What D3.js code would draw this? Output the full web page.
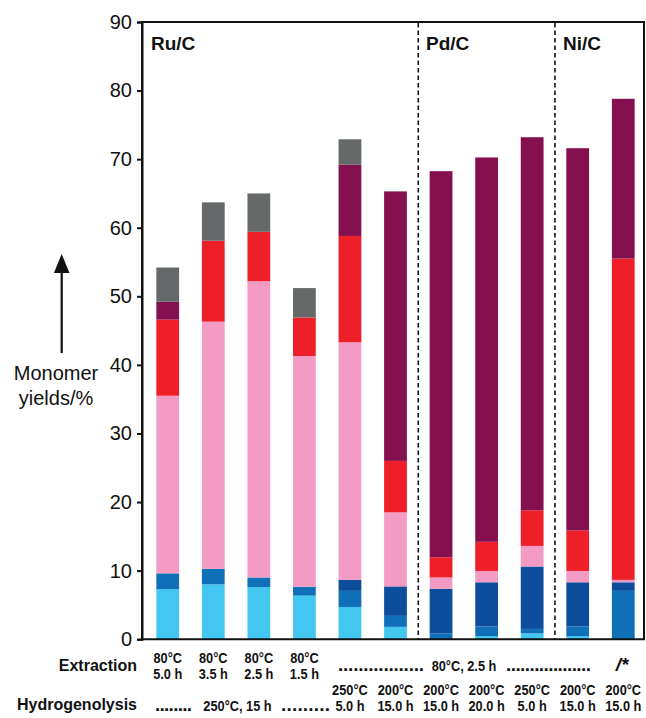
<!DOCTYPE html>
<html><head><meta charset="utf-8">
<script src="https://cdn.jsdelivr.net/npm/d3@7"></script>
<style>
body{margin:0;background:#fff;}
svg{display:block;font-family:"Liberation Sans",Arial,Helvetica,sans-serif;}
</style></head>
<body><svg id="c" width="646" height="718"></svg>
<script>
// ---- data ----
const bars = ["b1","b2","b3","b4","b5","b6","b7","b8","b9","b10","b11"];
const seriesKeys = ["cyan","mblue","dblue","pink","red","purple","gray"];
const cyan   = [7.3, 8.0, 7.6, 6.35, 4.7, 1.8, 0,    0.45, 0.85, 0.45, 0];
const mblue  = [2.3, 2.25,1.4, 1.3,  2.35,1.6, 0.85, 1.4,  0.65, 1.4,  7.05];
const dblue  = [0,   0,   0,   0,    1.6, 4.3, 6.5,  6.45, 9.1,  6.45, 1.25];
const pink   = [25.9,36.05,43.2,33.65,34.65,10.8,1.65,1.65, 3.0,  1.65, 0.35];
const red    = [11.1,11.8,7.2, 5.6,  15.5,7.5, 2.95, 4.25, 5.2,  5.9,  46.85];
const purple = [2.6, 0,   0,   0,    10.4,39.3,56.3, 56.05,54.4, 55.75,23.3];
const gray   = [5.0, 5.6, 5.6, 4.3,  3.7, 0,   0,    0,    0,    0,    0];
const yTicks = [0,10,20,30,40,50,60,70,80,90];
const catalysts = ["Ru/C","Pd/C","Ni/C"];
const extraction1 = ["80°C","80°C","80°C","80°C"];
const extraction2 = ["5.0 h","3.5 h","2.5 h","1.5 h"];
const extractionShared = "80°C, 2.5 h";
const extractionLast = "/*";
const hydroShared = "250°C, 15 h";
const hydro1 = ["250°C","200°C","200°C","200°C","250°C","200°C","200°C"];
const hydro2 = ["5.0 h","15.0 h","15.0 h","20.0 h","5.0 h","15.0 h","15.0 h"];

const colors = {cyan:"#43c7f1",mblue:"#0f70b8",dblue:"#0c4e9b",pink:"#f39bc4",red:"#ee1f28",purple:"#85104f",gray:"#65696a"};
const seriesData = {cyan,mblue,dblue,pink,red,purple,gray};

// ---- layout ----
const svg = d3.select("#c");
const pL = 142, pR = 644, pT = 22, pB = 639.2;
const x = d3.scaleBand().domain(bars).range([144.5, 646.5]).paddingInner(0.5).paddingOuter(0.26);
const y = d3.scaleLinear().domain([0,90]).range([pB, pT]);

const rows = bars.map((b,i)=>{const o={bar:b}; seriesKeys.forEach(k=>o[k]=seriesData[k][i]); return o;});
const stack = d3.stack().keys(seriesKeys)(rows);

svg.append("g").selectAll("g").data(stack).join("g")
  .attr("fill", d=>colors[d.key])
  .selectAll("rect").data(d=>d.filter(s=>s[1]-s[0]>0)).join("rect")
  .attr("x", d=>x(d.data.bar))
  .attr("width", x.bandwidth())
  .attr("y", d=>y(d[1]))
  .attr("height", d=>y(d[0])-y(d[1]));

// dashed separators
const sepAfter = ["b6","b9"];
sepAfter.forEach(b=>{
  const i = bars.indexOf(b);
  const xs = (x(bars[i]) + x.bandwidth()/2 + x(bars[i+1]) + x.bandwidth()/2)/2;
  svg.append("line").attr("x1",xs).attr("x2",xs).attr("y1",pT+1).attr("y2",pB)
    .attr("stroke","#111").attr("stroke-width",1.6).attr("stroke-dasharray","4.5,3");
});

// frame
svg.append("path").attr("d",`M${pL},${pB}V${pT}H${pR}V${pB}`)
  .attr("fill","none").attr("stroke","#111").attr("stroke-width",2);
// y axis
const yAxis = d3.axisLeft(y).tickValues(yTicks).tickSize(5).tickPadding(5);
const ga = svg.append("g").attr("transform",`translate(${pL},0)`).call(yAxis);
ga.select(".domain").attr("stroke","#111").attr("stroke-width",2);
ga.selectAll(".tick line").attr("stroke","#111").attr("stroke-width",2);
ga.selectAll(".tick text").attr("font-size",20).attr("fill","#111")
  .attr("font-family","'Liberation Sans',Arial,sans-serif");
// bottom line
svg.append("line").attr("x1",pL-1).attr("x2",pR+1).attr("y1",pB).attr("y2",pB)
  .attr("stroke","#111").attr("stroke-width",2);

// catalyst labels
const catX = [151, 426, 563];
catalysts.forEach((c,i)=>{
  svg.append("text").attr("x",catX[i]).attr("y",50).attr("font-size",19).attr("font-weight","bold")
    .attr("fill","#111").text(c);
});

// y label + arrow
svg.append("line").attr("x1",61.7).attr("x2",61.7).attr("y1",353).attr("y2",268)
  .attr("stroke","#111").attr("stroke-width",2.2);
svg.append("path").attr("d","M61.7,254 L69.5,273 L53.9,273 Z").attr("fill","#111");
svg.append("text").attr("x",56).attr("y",380).attr("text-anchor","middle").attr("font-size",20).attr("fill","#111").text("Monomer");
svg.append("text").attr("x",56).attr("y",405).attr("text-anchor","middle").attr("font-size",20).attr("fill","#111").text("yields/%");

// bottom labels
const cx = b=>x(b)+x.bandwidth()/2;
svg.append("text").attr("x",137).attr("y",671).attr("text-anchor","end").attr("font-size",16).attr("font-weight","bold").attr("fill","#111").text("Extraction");
svg.append("text").attr("x",137).attr("y",710).attr("text-anchor","end").attr("font-size",16).attr("font-weight","bold").attr("fill","#111").text("Hydrogenolysis");
const lab = svg.append("g").attr("font-size",14.2).attr("font-weight","bold").attr("fill","#111").attr("text-anchor","middle");
const narrow = (tx,ty,t)=>lab.append("text").attr("transform",`translate(${tx},${ty}) scale(0.9,1)`).text(t);
extraction1.forEach((t,i)=>{ narrow(cx(bars[i]),662.5,t); narrow(cx(bars[i]),678.5,extraction2[i]); });
const dots = (x0,x1,ty,n)=>lab.append("text").attr("x",x0).attr("y",ty).attr("text-anchor","start")
  .attr("font-size",19).attr("textLength",x1-x0).attr("lengthAdjust","spacing").text(".".repeat(n));
dots(338,424,671,17); narrow(464,671,extractionShared); dots(506,591,671,18);
svg.append("text").attr("x",622).attr("y",671).attr("text-anchor","middle").attr("font-size",19)
  .attr("font-weight","bold").attr("font-style","italic").attr("fill","#111").text(extractionLast);
dots(155,192,711,8); narrow(237.5,711,hydroShared); dots(281,330,711,9);
hydro1.forEach((t,i)=>{ narrow(cx(bars[i+4]),695,t); narrow(cx(bars[i+4]),711.2,hydro2[i]); });
</script></body></html>
